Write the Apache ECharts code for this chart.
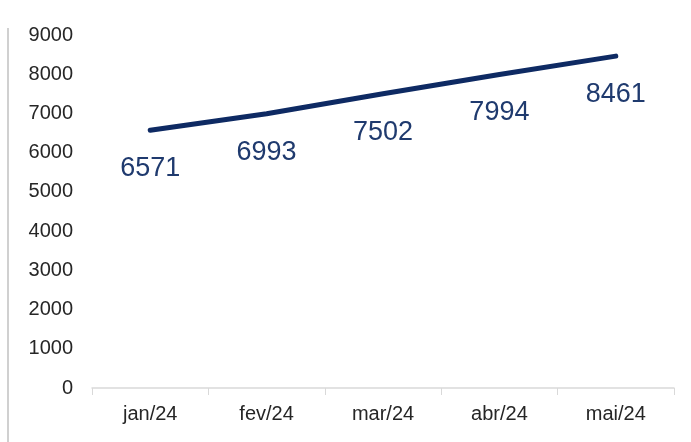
<!DOCTYPE html>
<html>
<head>
<meta charset="utf-8">
<script src="https://cdn.jsdelivr.net/npm/echarts@6/dist/echarts.min.js"></script>
<style>
  html, body { margin: 0; padding: 0; background: #fff; }
  #chart { width: 691px; height: 442px; }
</style>
</head>
<body>
<div id="chart"></div>
<script>
var months = ['jan/24', 'fev/24', 'mar/24', 'abr/24', 'mai/24'];
var totals = [6571, 6993, 7502, 7994, 8461];

var option = {
    animation: false,
    textStyle: { fontFamily: 'Liberation Sans, Arial, sans-serif' },
    grid: { left: 92, right: 17, top: 35, bottom: 54 },
    graphic: [{
        // borda cinza à esquerda da imagem
        type: 'rect',
        shape: { x: 7, y: 28, width: 2, height: 414 },
        style: { fill: '#d0d0d0' }
    }],
    xAxis: {
        type: 'category',
        data: months,
        axisLine: { lineStyle: { color: '#d9d9d9', width: 1.5 } },
        axisTick: { show: true, length: 7, lineStyle: { color: '#d9d9d9' } },
        axisLabel: { color: '#262626', fontSize: 20, margin: 16 }
    },
    yAxis: {
        type: 'value',
        min: 0,
        max: 9000,
        interval: 1000,
        axisLine: { show: false },
        axisTick: { show: false },
        splitLine: { show: false },
        axisLabel: {
            color: '#262626', fontSize: 20, margin: 19,
            formatter: function (v) { return String(v); }
        }
    },
    series: [{
        type: 'line',
        data: totals,
        symbol: 'circle',
        symbolSize: 0,
        lineStyle: { color: '#0e2a63', width: 5, cap: 'round' },
        itemStyle: { color: '#0e2a63' },
        label: {
            show: true,
            position: 'bottom',
            distance: 25,
            color: '#1f3a6e',
            fontSize: 27
        }
    }]
};

var myChart = echarts.init(document.getElementById('chart'));
myChart.setOption(option);
</script>
</body>
</html>
